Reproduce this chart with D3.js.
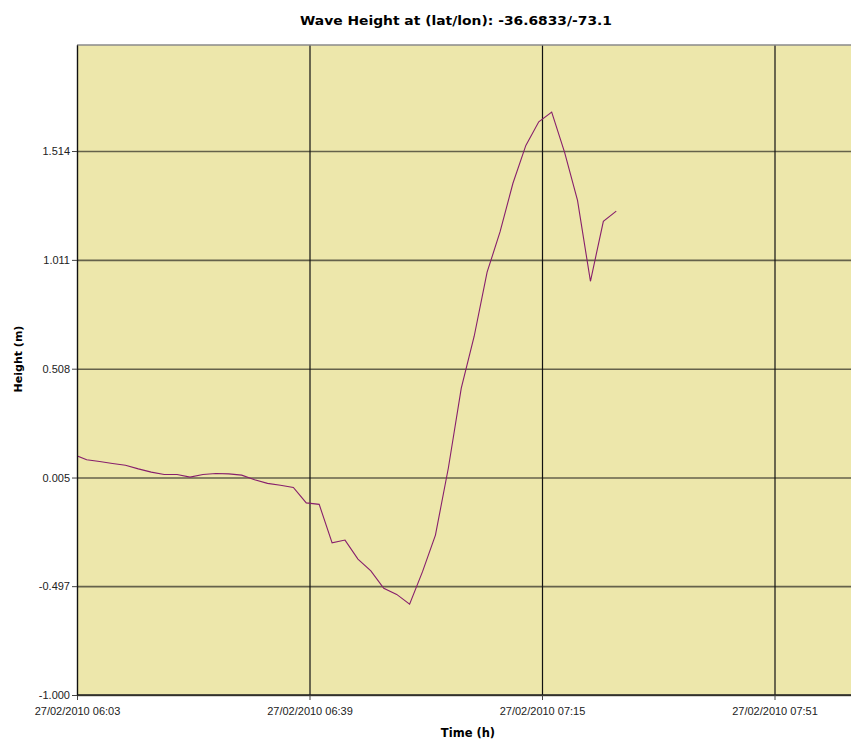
<html>
<head>
<style>
  html, body { margin: 0; padding: 0; background: #fff; overflow: hidden; }
  svg { display: block; }
  .tick text { font-family: "Liberation Sans", Arial, sans-serif; font-size: 11px; fill: #222; }
  .label { font-family: "DejaVu Sans", Verdana, sans-serif; font-weight: bold; fill: #000; }
</style>
</head>
<body>

<svg id="chart"></svg>

<script src="https://cdn.jsdelivr.net/npm/d3@7"></script>
<script>
// series date + sample times (every reading is one point of the line)
var day = "27/02/2010";
var times = ["06:02:30", "06:04:30", "06:06:30", "06:08:30", "06:10:30", "06:12:30", "06:14:30",
             "06:16:30", "06:18:30", "06:20:30", "06:22:30", "06:24:30", "06:26:30", "06:28:30",
             "06:30:30", "06:32:30", "06:34:30", "06:36:30", "06:38:30", "06:40:30", "06:42:30",
             "06:44:30", "06:46:30", "06:48:30", "06:50:30", "06:52:30", "06:54:30", "06:56:30",
             "06:58:30", "07:00:30", "07:02:30", "07:04:30", "07:06:30", "07:08:30", "07:10:30",
             "07:12:30", "07:14:30", "07:16:30", "07:18:30", "07:20:30", "07:22:30", "07:24:30",
             "07:26:30"];
var heights = [0.111, 0.087, 0.079, 0.070, 0.062, 0.045, 0.030,
               0.019, 0.019, 0.007, 0.019, 0.024, 0.022, 0.016,
               -0.005, -0.022, -0.031, -0.041, -0.112, -0.119, -0.297,
               -0.284, -0.372, -0.426, -0.507, -0.535, -0.580, -0.430,
               -0.261, 0.049, 0.418, 0.658, 0.954, 1.140, 1.365,
               1.540, 1.649, 1.694, 1.508, 1.286, 0.912, 1.189,
               1.236];

// axis ticks
var xTicks = ["06:03", "06:39", "07:15", "07:51"];
var yTicks = [-1.000, -0.497, 0.005, 0.508, 1.011, 1.514];
var xRange = ["06:03", "08:03"];
var yRange = [-1.000, 2.004];

var parseFull = d3.timeParse("%d/%m/%Y %H:%M:%S");
var parseMin = d3.timeParse("%d/%m/%Y %H:%M");

var data = times.map(function(t, i) {
    return {time: parseFull(day + " " + t), value: heights[i]};
});

drawChart();

function drawChart() {

var margin = {top: 45, right: -1, bottom: 47, left: 77},
    width = 851 - margin.left - margin.right,
    height = 742 - margin.top - margin.bottom;

var root = d3.select("svg#chart")
    .attr("width", 851)
    .attr("height", 742);

var svg = root.append("g")
    .attr("transform", "translate(" + margin.left + "," + margin.top + ")");

var x = d3.scaleTime()
    .domain(xRange.map(function(t) { return parseMin(day + " " + t); }))
    .range([0, width]);

var y = d3.scaleLinear()
    .domain(yRange)
    .range([height, 0]);

// plot background (runs past the window edge like the original)
svg.append("rect")
    .attr("width", width + 20)
    .attr("height", height)
    .attr("fill", "#EDE7AB");

svg.append("clipPath")
    .attr("id", "plot-clip")
  .append("rect")
    .attr("width", width)
    .attr("height", height);

// horizontal grid
svg.append("g")
    .attr("class", "y grid")
    .call(d3.axisLeft(y).tickValues(yTicks).tickSize(-(width + 20)).tickFormat(""))
    .call(function(g) { g.select(".domain").remove(); })
    .selectAll("line")
    .attr("stroke", "#65624b")
    .attr("stroke-width", 1.6);

// vertical grid
svg.append("g")
    .attr("class", "x grid")
    .attr("transform", "translate(0," + height + ")")
    .call(d3.axisBottom(x)
        .tickValues(xTicks.map(function(t) { return parseMin(day + " " + t); }))
        .tickSize(-height).tickFormat(""))
    .call(function(g) { g.select(".domain").remove(); })
    .selectAll("line")
    .attr("stroke", "#111")
    .attr("stroke-width", 1.2);

// top border
svg.append("line")
    .attr("x1", 0).attr("x2", width + 20)
    .attr("y1", 0).attr("y2", 0)
    .attr("stroke", "#8a8a8a")
    .attr("stroke-width", 1.5);

// wave line
var line = d3.line()
    .x(function(d) { return x(d.time); })
    .y(function(d) { return y(d.value); });

svg.append("path")
    .datum(data)
    .attr("clip-path", "url(#plot-clip)")
    .attr("fill", "none")
    .attr("stroke", "#871f6c")
    .attr("stroke-width", 1.1)
    .attr("d", line);

// x axis
var fmtTime = d3.timeFormat("%d/%m/%Y %H:%M");
var xAxis = svg.append("g")
    .attr("class", "x axis")
    .attr("transform", "translate(0," + height + ")")
    .call(d3.axisBottom(x)
        .tickValues(xTicks.map(function(t) { return parseMin(day + " " + t); }))
        .tickSize(5).tickSizeOuter(0).tickPadding(7)
        .tickFormat(fmtTime));
xAxis.select(".domain")
    .attr("d", "M0,0H" + (width + 20))
    .attr("stroke", "#222").attr("stroke-width", 1.6);

// y axis
var yAxis = svg.append("g")
    .attr("class", "y axis")
    .call(d3.axisLeft(y)
        .tickValues(yTicks)
        .tickSize(5).tickSizeOuter(0).tickPadding(2)
        .tickFormat(function(d) { return d.toFixed(3); }));
yAxis.select(".domain").attr("stroke", "#111").attr("stroke-width", 1.2);
yAxis.selectAll(".tick line").attr("stroke", "#444");
xAxis.selectAll(".tick line").attr("stroke", "#444");

// title + axis labels
root.append("text")
    .attr("class", "label")
    .attr("x", 456)
    .attr("y", 25)
    .attr("text-anchor", "middle")
    .style("font-size", "12px")
    .attr("textLength", 312)
    .attr("lengthAdjust", "spacingAndGlyphs")
    .text("Wave Height at (lat/lon): -36.6833/-73.1");

root.append("text")
    .attr("class", "label")
    .attr("x", 468)
    .attr("y", 737)
    .attr("text-anchor", "middle")
    .style("font-size", "11.5px")
    .text("Time (h)");

root.append("text")
    .attr("class", "label")
    .attr("transform", "translate(22,359) rotate(-90)")
    .attr("text-anchor", "middle")
    .style("font-size", "11px")
    .text("Height (m)");

}
</script>
</body>
</html>
